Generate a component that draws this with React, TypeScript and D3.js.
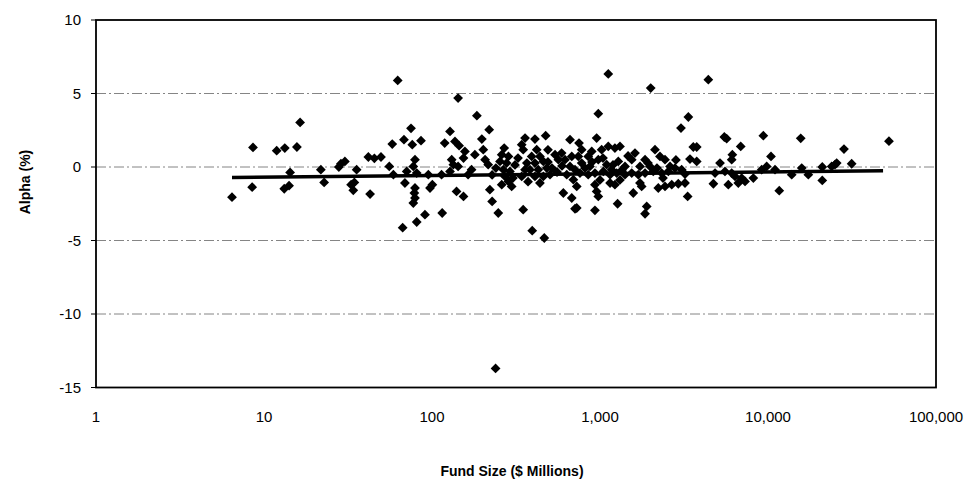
import React from "react";
import * as d3 from "d3";

// fund size ($M), alpha (%)
const points: [number, number][] = [
  [6.45, -2.05], [8.5, -1.37], [8.6, 1.33], [11.9, 1.11], [13.3, 1.29], [15.7, 1.36],
  [16.4, 3.03], [14.3, -0.37], [13.2, -1.48], [14.1, -1.27], [21.8, -0.18], [22.8, -1.05],
  [27.9, 0.0], [28.7, 0.22], [30.3, 0.38], [35.6, -0.18], [41.8, 0.68], [45.4, 0.59],
  [49.7, 0.68], [33.0, -1.2], [34.5, -1.05], [34.0, -1.59], [42.8, -1.84], [55.7, 0.04],
  [58.9, -0.52], [58.0, 1.56], [62.5, 5.89], [75.0, 2.63], [68.1, 1.86], [76.3, 1.52],
  [86.0, 1.79], [79.2, 0.5], [77.4, 0.04], [70.7, -0.3], [81.1, -0.41], [69.0, -1.09],
  [79.2, -1.43], [78.5, -1.77], [79.2, -2.11], [77.4, -2.45], [97.3, -1.43], [100.5, -1.2],
  [90.8, -3.24], [81.1, -3.74], [66.9, -4.13], [115, -3.13], [95.1, -0.52], [114, -0.52],
  [128, -0.3], [134, 0.16], [131, 0.5], [128, 2.42], [119, 1.63], [137, 1.74],
  [140, -1.66], [143, 4.69], [185, 3.49], [219, 2.54], [198, 1.9], [145, 1.45],
  [157, 1.06], [154, 0.61], [180, 0.84], [202, 1.18], [207, 0.5], [216, 0.16],
  [143, 0.04], [172, -0.18], [164, -0.52], [154, -2.0], [221, -1.54], [228, -2.34],
  [248, -3.13], [349, -2.9], [395, -4.33], [466, -4.83], [239, -13.7],
  [269, 1.29], [260, 0.84], [285, 0.72], [254, 0.38], [278, 0.27], [266, -0.18],
  [291, -0.3], [272, -0.64], [285, -0.98], [260, -1.2], [298, -1.32], [358, 1.97],
  [410, 1.9], [475, 2.13], [342, 1.52], [349, 1.18], [420, 1.18], [392, 0.72],
  [439, 0.72], [410, 0.27], [460, 0.38], [383, -0.18], [429, -0.18], [482, -0.07],
  [410, -0.64], [460, -0.64], [504, -0.52], [439, -1.09], [358, -0.18], [342, -0.64],
  [540, 0.84], [591, 0.95], [565, 0.5], [663, 1.86], [750, 1.63], [619, 0.5],
  [679, 0.72], [663, 0.04], [710, -0.18], [634, -0.52], [694, -0.86], [727, -1.32],
  [605, -1.77], [679, -2.11], [710, -2.84], [1120, 6.33], [2004, 5.37], [977, 3.63],
  [955, 1.97], [3034, 2.65], [3357, 3.4], [3592, 1.36], [3433, 0.54], [3325, -2.0],
  [778, 1.18], [743, 0.72], [851, 0.72], [893, 1.06], [1023, 1.18], [1120, 1.4],
  [1227, 1.29], [1315, 1.4], [778, 0.27], [871, 0.04], [977, 0.5], [1096, 0.16],
  [1172, -0.18], [1285, 0.38], [1409, 0.04], [1545, 0.5], [1615, 0.95], [1730, 0.04],
  [1854, 0.5], [1985, 0.04], [2125, 1.18], [2275, 0.72], [2438, 0.5], [2612, 0.04],
  [2793, -0.07], [3062, -0.18], [760, -0.41], [851, -0.52], [933, -0.41], [1047, -0.3],
  [1148, -0.52], [1257, -0.41], [1409, -0.52], [1545, -0.41], [1690, -0.52], [1854, -0.41],
  [2075, -0.3], [2328, -0.41], [2552, -0.3], [933, -1.2], [955, -1.66], [977, -2.0],
  [1148, -1.09], [1227, -1.2], [1770, -1.32], [1578, -1.77], [1730, -1.09], [727, -2.79],
  [933, -2.95], [1273, -2.5], [1897, -2.68], [1854, -3.18], [2223, -1.43], [2438, -1.32],
  [2673, -1.2], [2924, -1.14], [3206, -1.09], [4413, 5.94], [5495, 2.04], [5675, 1.93],
  [6880, 1.4], [9380, 2.13], [15660, 1.95], [3765, 1.36], [3765, 0.38], [6135, 0.84],
  [6080, 0.5], [5180, 0.27], [4840, -0.41], [5545, -0.3], [6080, -0.41], [6365, -0.64],
  [6970, -0.75], [7300, -0.98], [4730, -1.14], [5805, -1.2], [6655, -1.09], [8180, -0.75],
  [9170, -0.18], [9820, 0.04], [10420, 0.72], [11010, -0.18], [13840, -0.52], [15880, -0.07],
  [17380, -0.52], [11670, -1.61], [21040, 0.0], [21040, -0.91], [23930, 0.04], [25050, 0.16],
  [25640, 0.27], [28330, 1.22], [31470, 0.22], [52480, 1.76],
  // overlapping markers inside the dense blobs
  [312, 0.14], [325, 0.61], [367, 0.27], [303, -0.75], [373, -1.0], [490, 0.34],
  [518, -0.07], [555, -0.34], [594, 0.07], [814, -0.07], [896, 0.34], [1042, 0.61],
  [1195, 0.14], [1352, -0.2], [1469, 0.75], [1930, 0.27], [2183, -0.07], [2371, -0.75],
  [2831, 0.48], [3206, -0.48], [1000, -0.88], [1315, -0.88], [490, 1.17], [240, -0.07],
  [228, -0.54],
];

// log trend line, endpoints
const trendSizes = [6.45, 48400];
const trendAlphas = [-0.72, -0.25];

const xTicks = [1, 10, 100, 1000, 10000, 100000];
const yTicks = [10, 5, 0, -5, -10, -15];
const gridValues = [5, 0, -5, -10];

const W = 964;
const H = 482;
const left = 96;
const right = 936;
const top = 20;
const bottom = 387.5;
const font = "'Liberation Sans', Arial, sans-serif";

export default function App() {
  const x = d3.scaleLog().domain([1, 100000]).range([left, right]);
  const y = d3.scaleLinear().domain([-15, 10]).range([bottom, top]);
  const fmt = d3.format(",");
  const r = 4.9;
  const diamond = `M0,${-r}L${r},0L0,${r}L${-r},0Z`;
  const trend = d3
    .line<number>()
    .x((d, i) => x(trendSizes[i]))
    .y((d) => y(d))(trendAlphas);

  return (
    <svg
      width={W}
      height={H}
      style={{ position: "absolute", left: 0, top: 0, background: "#fff" }}
    >
      {/* gridlines */}
      {gridValues.map((v) => (
        <line
          key={v}
          x1={left}
          x2={right}
          y1={y(v)}
          y2={y(v)}
          stroke="#777"
          strokeWidth={0.9}
          strokeDasharray="10,3,2,3"
        />
      ))}

      {/* frame */}
      <rect
        x={left}
        y={top}
        width={right - left}
        height={bottom - top}
        fill="none"
        stroke="#000"
        strokeWidth={1.8}
      />

      {/* y ticks + labels */}
      {yTicks.map((v) => (
        <g key={v}>
          <line x1={left - 5} x2={left} y1={y(v)} y2={y(v)} stroke="#000" strokeWidth={1} />
          <text
            x={81}
            y={y(v)}
            dy="0.35em"
            textAnchor="end"
            fontFamily={font}
            fontSize={15}
            fill="#000"
          >
            {v}
          </text>
        </g>
      ))}

      {/* x labels */}
      {xTicks.map((v) => (
        <text
          key={v}
          x={x(v)}
          y={422}
          textAnchor="middle"
          fontFamily={font}
          fontSize={15}
          fill="#000"
        >
          {fmt(v)}
        </text>
      ))}

      {/* points */}
      {points.map(([s, a], i) => (
        <path key={i} d={diamond} transform={`translate(${x(s)},${y(a)})`} fill="#000" />
      ))}

      {/* trend */}
      <path d={trend || ""} fill="none" stroke="#000" strokeWidth={3.5} />

      {/* axis titles */}
      <text
        x={512}
        y={476}
        textAnchor="middle"
        fontFamily={font}
        fontSize={14}
        fontWeight="bold"
        fill="#000"
      >
        Fund Size ($ Millions)
      </text>
      <text
        transform={`translate(30,182) rotate(-90)`}
        textAnchor="middle"
        fontFamily={font}
        fontSize={14}
        fontWeight="bold"
        fill="#000"
      >
        Alpha (%)
      </text>
    </svg>
  );
}
